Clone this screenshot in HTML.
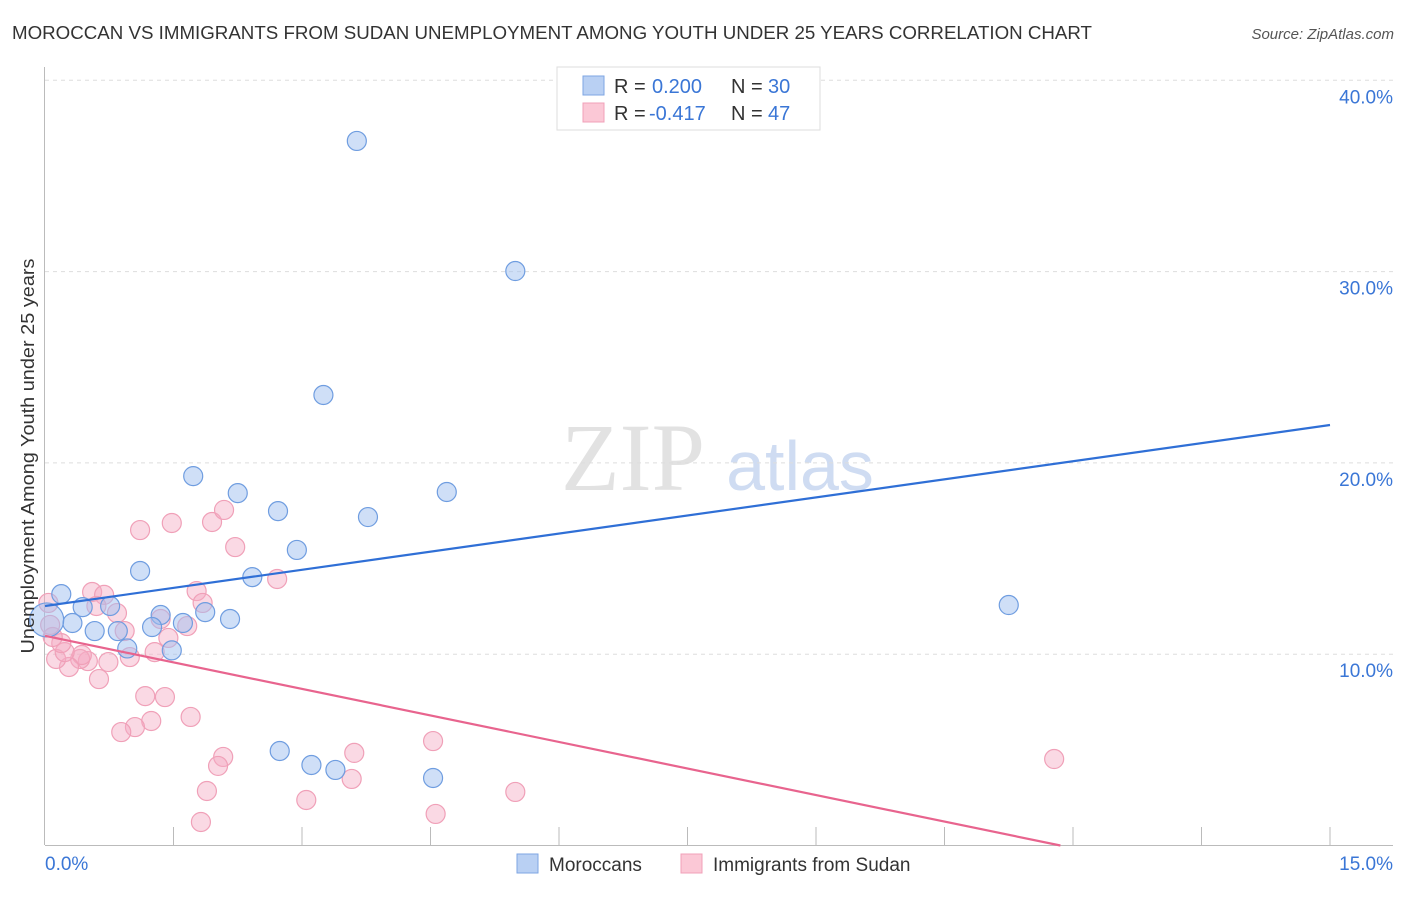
<!DOCTYPE html>
<html><head><meta charset="utf-8"><style>
body{margin:0;background:#fff;width:1406px;height:892px;overflow:hidden;font-family:"Liberation Sans",sans-serif}
</style></head><body>
<svg id="chart" width="1406" height="892" xmlns="http://www.w3.org/2000/svg">
<text x="12" y="39" font-size="18" fill="#333" textLength="1080" lengthAdjust="spacingAndGlyphs">MOROCCAN VS IMMIGRANTS FROM SUDAN UNEMPLOYMENT AMONG YOUTH UNDER 25 YEARS CORRELATION CHART</text>
<text x="1394" y="39" font-size="15" fill="#555" font-style="italic" text-anchor="end">Source: ZipAtlas.com</text>
<g>
<text x="633" y="490" font-size="96" font-family="Liberation Serif, serif" fill="#e2e2e2" text-anchor="middle">ZIP</text>
<text x="800" y="490" font-size="70" fill="#cfdcf2" text-anchor="middle">atlas</text>
</g>
<g id="grid"></g>
<g id="axes"></g>
<g id="marks"></g>
<text transform="translate(34,456) rotate(-90)" font-size="18" fill="#333" text-anchor="middle" textLength="395" lengthAdjust="spacingAndGlyphs">Unemployment Among Youth under 25 years</text>
<g>
<rect x="557" y="67" width="263" height="63" fill="#fff" stroke="#ddd"/>
<rect x="583" y="76" width="21" height="19" fill="#b9d0f3" stroke="#7ea6e3"/>
<rect x="583" y="103" width="21" height="19" fill="#fbc8d6" stroke="#f0a0b8"/>
<text x="614" y="93" font-size="20" fill="#333">R = <tspan fill="#3a76d6" x="652">0.200</tspan><tspan fill="#333" x="731">N = </tspan><tspan fill="#3a76d6" x="768">30</tspan></text>
<text x="614" y="120" font-size="20" fill="#333">R = <tspan fill="#3a76d6" x="649">-0.417</tspan><tspan fill="#333" x="731">N = </tspan><tspan fill="#3a76d6" x="768">47</tspan></text>
</g>
<g>
<rect x="517" y="854" width="21" height="19" fill="#b9d0f3" stroke="#7ea6e3"/>
<text x="549" y="871" font-size="19" fill="#333">Moroccans</text>
<rect x="681" y="854" width="21" height="19" fill="#fbc8d6" stroke="#f0a0b8"/>
<text x="713" y="871" font-size="19" fill="#333">Immigrants from Sudan</text>
</g>
</svg>
<script>
const yTicks=[10,20,30,40];
const yTickLabels=["10.0%","20.0%","30.0%","40.0%"];
const xTickCount=10;
const xLabels=["0.0%","15.0%"];
const blueX=[3.64,5.49,3.25,1.73,2.25,4.69,2.72,3.77,2.94,1.11,2.42,0.19,0.44,0.76,1.35,1.87,2.16,0.32,0.58,0.85,1.25,1.61,0.96,1.48,11.25,2.74,3.11,3.39,4.53,0.02];
const blueY=[36.83,30.03,23.55,19.31,18.42,18.48,17.48,17.17,15.45,14.35,14.03,13.14,12.46,12.52,12.05,12.20,11.84,11.63,11.21,11.21,11.42,11.63,10.30,10.20,12.57,4.94,4.21,3.95,3.53,11.79];
const pinkX=[1.11,1.48,1.95,2.09,2.22,2.71,1.77,1.84,0.55,0.69,0.60,0.84,0.93,1.35,1.66,1.44,1.28,0.99,0.74,0.50,0.41,0.43,0.28,0.13,0.23,0.19,0.09,0.04,0.63,1.17,1.40,1.70,1.24,1.05,0.89,2.08,2.02,1.89,1.82,3.05,3.61,3.58,4.53,4.56,5.49,11.78,0.06];
const pinkY=[16.49,16.86,16.91,17.54,15.60,13.93,13.30,12.68,13.25,13.10,12.52,12.15,11.21,11.84,11.47,10.85,10.11,9.85,9.59,9.64,9.75,9.96,9.33,9.75,10.11,10.58,10.90,12.68,8.70,7.81,7.76,6.72,6.51,6.19,5.93,4.63,4.16,2.85,1.23,2.38,4.84,3.48,5.46,1.65,2.80,4.52,11.53];
const blueTrend=[12.52,21.98];
const pinkTrend=[10.96,-2.91];
const xs=v=>45+v*1285/15, ys=v=>845.5-v*19.13;
const NS="http://www.w3.org/2000/svg";
function mk(tag,attrs,parent){const e=document.createElementNS(NS,tag);for(const k in attrs)e.setAttribute(k,attrs[k]);document.getElementById(parent).appendChild(e);return e;}
yTicks.forEach((t,i)=>{
 const g=mk('line',{x1:45,x2:1393,y1:ys(t),y2:ys(t),stroke:'#ddd','stroke-dasharray':'4,4'},'grid');
 
 
 const l=mk('text',{x:1393,y:ys(t)+23,'font-size':19,fill:'#3a76d6','text-anchor':'end'},'grid');l.textContent=yTickLabels[i];
 
 
});
let a=mk('line',{x1:44.5,x2:44.5,y1:67,y2:845,stroke:'#bbb'},'axes');


a=mk('line',{x1:45,x2:1393,y1:845.5,y2:845.5,stroke:'#bbb'},'axes');


for(let i=1;i<=xTickCount;i++){const x=xs(i*1.5);const t=mk('line',{x1:x,x2:x,y1:827,y2:845,stroke:'#bbb'},'axes');
 
 }
let xl=mk('text',{x:45,y:870,'font-size':19,fill:'#3a76d6'},'axes');xl.textContent=xLabels[0];


xl=mk('text',{x:1393,y:870,'font-size':19,fill:'#3a76d6','text-anchor':'end'},'axes');xl.textContent=xLabels[1];


function dots(X,Y,fill,stroke,name){X.forEach((x,i)=>{const c=mk('circle',{cx:xs(x),cy:ys(Y[i]),r:(x<0.05&&name==='moroccan-point')?17:9.5,fill:fill,stroke:stroke,'stroke-width':1.2},'marks');
 
 });}
dots(pinkX,pinkY,'rgba(245,170,195,0.45)','#f0a0b8','sudan-point');
dots(blueX,blueY,'rgba(160,192,240,0.5)','#6f9de0','moroccan-point');
let tl=mk('line',{x1:xs(0),y1:ys(blueTrend[0]),x2:xs(15),y2:ys(blueTrend[1]),stroke:'#2f6fd6','stroke-width':2.2},'marks');


const pz=-pinkTrend[0]/((pinkTrend[1]-pinkTrend[0])/15);
tl=mk('line',{x1:xs(0),y1:ys(pinkTrend[0]),x2:xs(pz),y2:ys(0),stroke:'#e8648e','stroke-width':2.2},'marks');


</script>
</body></html>
